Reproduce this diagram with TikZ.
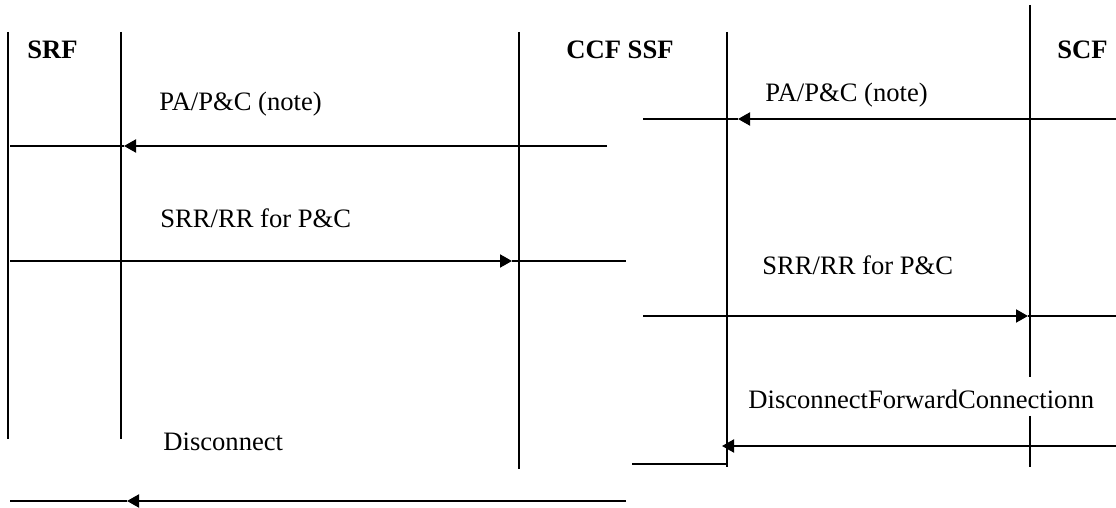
\documentclass[tikz,border=0pt]{standalone}
\usepackage{fontspec}
\setmainfont{Liberation Serif}
\usetikzlibrary{arrows.meta}
\begin{document}
\begin{tikzpicture}[x=0.5pt,y=-0.5pt,
  life/.style={line width=1pt},
  msg/.style={line width=1pt,-{Triangle[length=6pt,width=6.5pt]}},
  lbl/.style={anchor=west,inner sep=0pt,font=\fontsize{13.3}{15}\selectfont},
  hdr/.style={anchor=west,inner sep=0pt,font=\fontsize{13.3}{15}\selectfont\bfseries}]
\useasboundingbox (0,0) rectangle (1116,508);
% headers
\node[hdr] (srf) at (27,50) {SRF};
\node[hdr] (ccf) at (566,50) {CCF SSF};
\node[hdr] (scf) at (1057,50) {SCF};
% lifelines
\coordinate (l1t) at (8,32);    \coordinate (l1b) at (8,439);
\coordinate (l2t) at (121,32);  \coordinate (l2b) at (121,439);
\coordinate (l3t) at (519,32);  \coordinate (l3b) at (519,469);
\coordinate (l4t) at (727,32);  \coordinate (l4b) at (727,467);
\coordinate (l5t) at (1030,5);  \coordinate (l5m) at (1030,377);
\coordinate (l5n) at (1030,416); \coordinate (l5b) at (1030,467);
\draw[life] (l1t) -- (l1b);
\draw[life] (l2t) -- (l2b);
\draw[life] (l3t) -- (l3b);
\draw[life] (l4t) -- (l4b);
\draw[life] (l5t) -- (l5m);
\draw[life] (l5n) -- (l5b);
% labels
\node[lbl] (m1) at (159,104) {PA/P\&C (note)};
\node[lbl] (m2) at (160,218) {SRR/RR for P\&C};
\node[lbl] (m3) at (765,95) {PA/P\&C (note)};
\node[lbl] (m4) at (762,265) {SRR/RR for P\&C};
\node[lbl] (m5) at (748,399) {DisconnectForwardConnectionn};
\node[lbl] (m6) at (163,442) {Disconnect};
% message 1
\coordinate (a1s) at (607,146); \coordinate (a1m) at (124,146); \coordinate (a1e) at (10,146);
\draw[msg] (a1s) -- (a1m);
\draw[life] (a1m) -- (a1e);
% message 2
\coordinate (a2s) at (10,261); \coordinate (a2m) at (512,261); \coordinate (a2e) at (626,261);
\draw[msg] (a2s) -- (a2m);
\draw[life] (a2m) -- (a2e);
% message 3
\coordinate (a3s) at (1116,119); \coordinate (a3m) at (738,119); \coordinate (a3e) at (643,119);
\draw[msg] (a3s) -- (a3m);
\draw[life] (a3m) -- (a3e);
% message 4
\coordinate (a4s) at (643,316); \coordinate (a4m) at (1028,316); \coordinate (a4e) at (1116,316);
\draw[msg] (a4s) -- (a4m);
\draw[life] (a4m) -- (a4e);
% message 5
\coordinate (a5s) at (1116,446); \coordinate (a5m) at (722,446);
\draw[msg] (a5s) -- (a5m);
% short line
\coordinate (s1) at (632,464); \coordinate (s2) at (727,464);
\draw[life] (s1) -- (s2);
% message 6
\coordinate (a6s) at (626,501); \coordinate (a6m) at (127,501); \coordinate (a6e) at (10,501);
\draw[msg] (a6s) -- (a6m);
\draw[life] (a6m) -- (a6e);
\end{tikzpicture}
\end{document}
